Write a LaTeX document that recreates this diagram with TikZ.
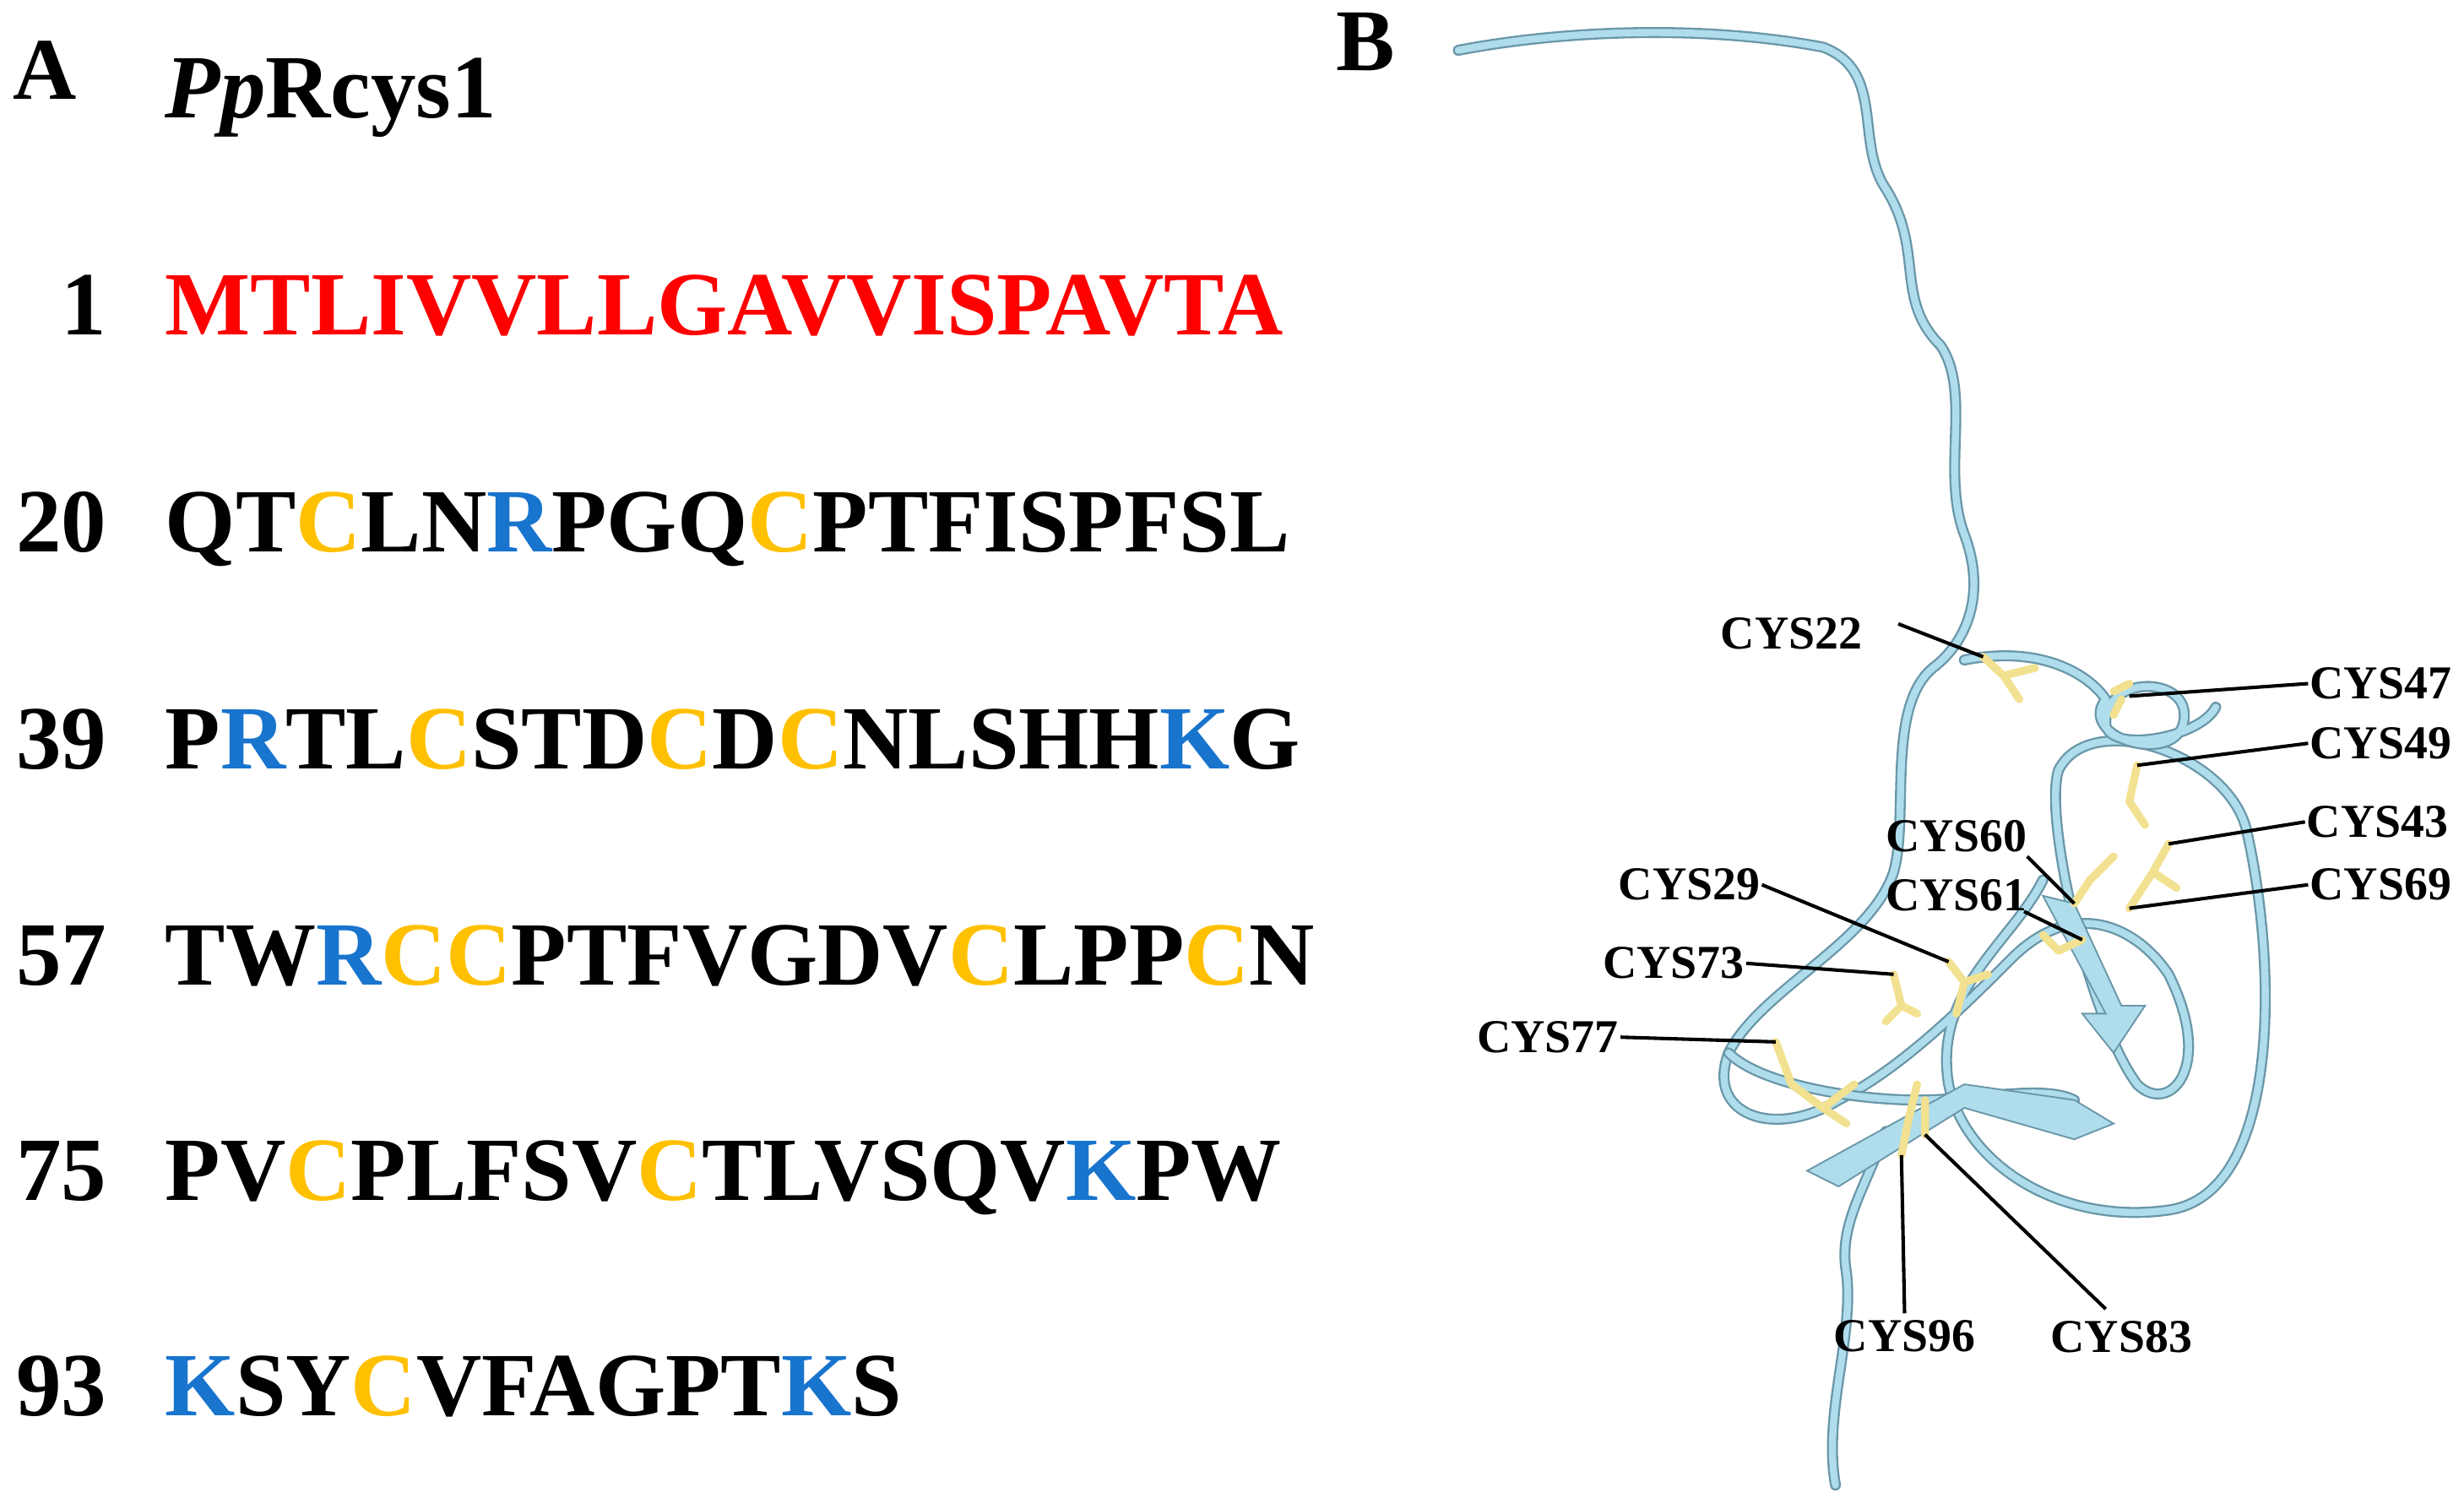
\documentclass[tikz,border=0pt]{standalone}
\usepackage{fontspec}
\setmainfont{Liberation Serif}
\begin{document}
\definecolor{red1}{HTML}{FF0000}
\definecolor{cys}{HTML}{FFC000}
\definecolor{pos}{HTML}{1874CD}
\definecolor{rib}{HTML}{B0DDEB}
\definecolor{ribd}{HTML}{6A97A8}
\definecolor{stick}{HTML}{F2E190}
\begin{tikzpicture}[x=1pt,y=-1pt,
  seq/.style={anchor=base west,inner sep=0,font=\fontsize{57.5}{60}\selectfont\bfseries},
  num/.style={anchor=base east,inner sep=0,font=\fontsize{57.5}{60}\selectfont\bfseries},
  lab/.style={inner sep=1pt,font=\fontsize{30}{30}\selectfont\bfseries},
  ln/.style={line width=2.2pt},
  bb/.style={line width=7pt,draw=ribd,line cap=round,line join=round},
  bbi/.style={line width=4.5pt,draw=rib,line cap=round,line join=round},
  st/.style={line width=5pt,draw=stick,line cap=round}]
\useasboundingbox (0,0) rectangle (1568,960);
\newcommand{\Cy}{\textcolor{cys}{C}}
\newcommand{\Ps}[1]{\textcolor{pos}{#1}}
\node[anchor=base west,inner sep=0,font=\fontsize{56}{60}\selectfont\bfseries] (A) at (8,63) {A};
\node[anchor=base west,inner sep=0,font=\fontsize{56}{60}\selectfont\bfseries] (B) at (850,45) {B};
\node[seq] (t) at (105,75) {\textit{Pp}Rcys1};
\node[num] (n1) at (68,213) {1};
\node[seq,text=red1] (s1) at (105,213) {MTLIVVLLGAVVISPAVTA};
\node[num] (n2) at (68,351) {20};
\node[seq] (s2) at (105,351) {QT\Cy LN\Ps{R}PGQ\Cy PTFISPFSL};
\node[num] (n3) at (68,489) {39};
\node[seq] (s3) at (105,489) {P\Ps{R}TL\Cy STD\Cy D\Cy NLSHH\Ps{K}G};
\node[num] (n4) at (68,627) {57};
\node[seq] (s4) at (105,627) {TW\Ps{R}\Cy\Cy PTFVGDV\Cy LPP\Cy N};
\node[num] (n5) at (68,764) {75};
\node[seq] (s5) at (105,764) {PV\Cy PLFSV\Cy TLVSQV\Ps{K}PW};
\node[num] (n6) at (68,901) {93};
\node[seq] (s6) at (105,901) {\Ps{K}SY\Cy VFAGPT\Ps{K}S};
% backbone
\def\pathA{(928,32) .. controls (990,20) and (1080,15) .. (1160,30) .. controls (1200,45) and (1180,90) .. (1200,120) .. controls (1225,160) and (1205,190) .. (1235,220) .. controls (1255,250) and (1235,300) .. (1250,340) .. controls (1265,380) and (1250,410) .. (1230,425) .. controls (1200,450) and (1215,520) .. (1205,555) .. controls (1190,600) and (1120,630) .. (1100,670) .. controls (1085,710) and (1130,725) .. (1170,700) .. controls (1210,680) and (1250,640) .. (1280,610) .. controls (1320,570) and (1360,590) .. (1380,620) .. controls (1410,680) and (1380,710) .. (1360,690) .. controls (1330,650) and (1300,520) .. (1310,490) .. controls (1330,450) and (1420,480) .. (1430,530) .. controls (1450,620) and (1450,760) .. (1380,770) .. controls (1310,780) and (1250,740) .. (1240,690) .. controls (1230,630) and (1280,600) .. (1300,560)}
\def\pathB{(1250,420) .. controls (1300,410) and (1330,430) .. (1340,445) .. controls (1320,470) and (1390,490) .. (1390,455) .. controls (1390,430) and (1340,430) .. (1340,460) .. controls (1340,480) and (1400,470) .. (1410,450)}
\def\pathC{(1200,720) .. controls (1185,760) and (1170,780) .. (1175,810) .. controls (1180,850) and (1160,900) .. (1168,945)}
\def\pathD{(1100,670) .. controls (1120,690) and (1180,700) .. (1220,700) .. controls (1260,700) and (1300,690) .. (1320,700)}
\foreach \p in {\pathA,\pathB,\pathC,\pathD}{\draw[bb] \p; \draw[bbi] \p;}
% strands
\fill[rib,draw=ribd,line width=1pt] (1300,570) -- (1320,575) -- (1350,640) -- (1365,640) -- (1345,670) -- (1325,645) -- (1340,645) -- cycle;
\fill[rib,draw=ribd,line width=1pt] (1150,745) -- (1250,690) -- (1320,700) -- (1345,715) -- (1320,725) -- (1250,705) -- (1170,755) -- cycle;
% sticks
\draw[st] (1262,418) -- (1275,430) -- (1295,425) (1275,430) -- (1285,445);
\draw[st] (1345,440) -- (1355,435) (1350,445) -- (1345,455);
\draw[st] (1360,487) -- (1355,510) -- (1365,525);
\draw[st] (1380,537) -- (1370,555) -- (1355,578) (1370,555) -- (1385,565);
\draw[st] (1320,575) -- (1330,560) -- (1345,545);
\draw[st] (1325,598) -- (1310,605) (1310,605) -- (1300,595);
\draw[st] (1240,612) -- (1250,625) -- (1265,620) (1250,625) -- (1245,645);
\draw[st] (1205,620) -- (1210,640) -- (1200,650) (1210,640) -- (1220,645);
\draw[st] (1130,663) -- (1140,690) -- (1160,705) -- (1180,690) (1160,705) -- (1175,715);
\draw[st] (1210,735) -- (1215,710) -- (1220,690) (1225,722) -- (1225,700);
% labels
\node[lab] (c22) at (1140,403) {CYS22};
\node[lab] (c47) at (1515,435) {CYS47};
\node[lab] (c49) at (1515,473) {CYS49};
\node[lab] (c43) at (1513,523) {CYS43};
\node[lab] (c69) at (1515,563) {CYS69};
\node[lab] (c60) at (1245,532) {CYS60};
\node[lab] (c61) at (1245,570) {CYS61};
\node[lab] (c29) at (1075,563) {CYS29};
\node[lab] (c73) at (1065,613) {CYS73};
\node[lab] (c77) at (985,660) {CYS77};
\node[lab] (c96) at (1212,850) {CYS96};
\node[lab] (c83) at (1350,851) {CYS83};
\coordinate (p22) at (1262,418);
\coordinate (p47) at (1355,443);
\coordinate (p49) at (1360,487);
\coordinate (p43) at (1380,537);
\coordinate (p69) at (1355,578);
\coordinate (p60) at (1320,575);
\coordinate (p61) at (1325,598);
\coordinate (p29) at (1240,612);
\coordinate (p73) at (1205,620);
\coordinate (p77) at (1130,663);
\coordinate (p96) at (1210,735);
\coordinate (p83) at (1225,722);
\draw[ln] (1208,397) -- (p22);
\draw[ln] (c47.west) -- (p47);
\draw[ln] (c49.west) -- (p49);
\draw[ln] (c43.west) -- (p43);
\draw[ln] (c69.west) -- (p69);
\draw[ln] (1290,545) -- (p60);
\draw[ln] (1288,580) -- (p61);
\draw[ln] (c29.east) -- (p29);
\draw[ln] (c73.east) -- (p73);
\draw[ln] (c77.east) -- (p77);
\draw[ln] (c96.north) ++(0,-3) -- (p96);
\draw[ln] (1340,833) -- (p83);
\end{tikzpicture}
\end{document}
